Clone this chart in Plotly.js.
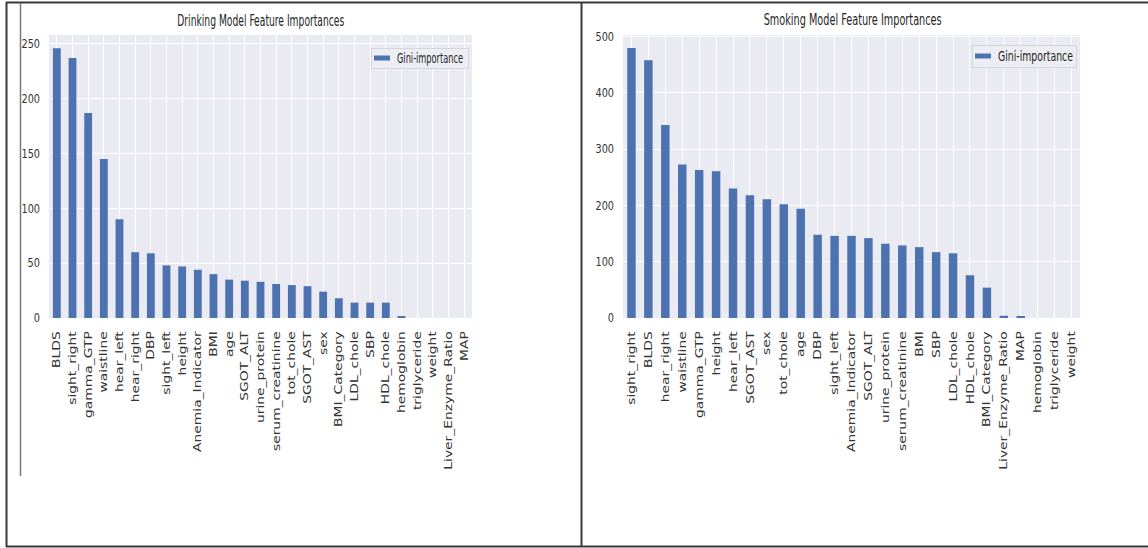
<!DOCTYPE html>
<html>
<head>
<meta charset="utf-8">
<script src="https://cdn.plot.ly/plotly-3.0.1.min.js"></script>
<style>
  html, body { margin: 0; padding: 0; background: #ffffff; }
  #chart { width: 1148px; height: 548px; }
</style>
</head>
<body>
<div id="chart"></div>
<script>
// ---- Data ----
var drinkTitle = "Drinking Model Feature Importances";
var smokeTitle = "Smoking Model Feature Importances";
var seriesName = "Gini-importance";

var drinkFeatures = ["BLDS","sight_right","gamma_GTP","waistline","hear_left","hear_right","DBP","sight_left","height","Anemia_Indicator","BMI","age","SGOT_ALT","urine_protein","serum_creatinine","tot_chole","SGOT_AST","sex","BMI_Category","LDL_chole","SBP","HDL_chole","hemoglobin","triglyceride","weight","Liver_Enzyme_Ratio","MAP"];
var drinkValues = [246, 237, 187, 145, 90, 60, 59, 48, 47, 44, 40, 35, 34, 33, 31, 30, 29, 24, 18, 14, 14, 14, 1.2, 0, 0, 0, 0];

var smokeFeatures = ["sight_right","BLDS","hear_right","waistline","gamma_GTP","height","hear_left","SGOT_AST","sex","tot_chole","age","DBP","sight_left","Anemia_Indicator","SGOT_ALT","urine_protein","serum_creatinine","BMI","SBP","LDL_chole","HDL_chole","BMI_Category","Liver_Enzyme_Ratio","MAP","hemoglobin","triglyceride","weight"];
var smokeValues = [480, 458, 343, 273, 263, 261, 230, 218, 211, 202, 194, 148, 146, 146, 142, 132, 129, 126, 117, 115, 76, 54, 4, 2, 0, 0, 0];

var drinkTicks = [0, 50, 100, 150, 200, 250];
var smokeTicks = [0, 100, 200, 300, 400, 500];

// ---- Styling ----
var W = 1148, H = 548;
var barColor = "#4C72B0";
var bg = "#EAEAF2";
var narrow = "DejaVu Sans Condensed, Liberation Sans Narrow, sans-serif";
var sans = "DejaVu Sans, sans-serif";
function px(x) { return x / W; }
function py(y) { return 1 - y / H; }

var traces = [
  { type: "bar", x: drinkFeatures, y: drinkValues, name: seriesName,
    marker: { color: barColor, line: { width: 0 } }, width: 0.5,
    xaxis: "x", yaxis: "y", legend: "legend", hoverinfo: "x+y" },
  { type: "bar", x: smokeFeatures, y: smokeValues, name: seriesName,
    marker: { color: barColor, line: { width: 0 } }, width: 0.5,
    xaxis: "x2", yaxis: "y2", legend: "legend2", hoverinfo: "x+y" }
];

var yDom = [py(318), py(35)];

function xaxisDef(dom, anchor, cats) {
  return {
    domain: dom, anchor: anchor, type: "category",
    range: [-0.5, cats.length - 0.5],
    tickmode: "array", tickvals: cats, ticktext: cats,
    showgrid: true, gridcolor: "#ffffff", gridwidth: 1,
    zeroline: false, showline: false, ticks: "",
    tickangle: -90, ticklabelstandoff: 10,
    tickfont: { family: sans, size: 11, color: "#333333" },
    fixedrange: true
  };
}
function yaxisDef(anchor, maxv, ticks) {
  return {
    domain: yDom, anchor: anchor,
    range: [0, maxv],
    tickmode: "array", tickvals: ticks, ticktext: ticks.map(String),
    showgrid: true, gridcolor: "#ffffff", gridwidth: 1,
    zeroline: false, showline: false, ticks: "",
    ticklabelstandoff: 8,
    tickfont: { family: narrow, size: 12, color: "#333333" },
    fixedrange: true
  };
}

var lineColor = "#3a3a3a";
var shapes = [
  { type: "line", xref: "paper", yref: "paper", x0: px(6), x1: 1, y0: py(2.5), y1: py(2.5), line: { color: lineColor, width: 2 } },
  { type: "line", xref: "paper", yref: "paper", x0: px(6.5), x1: px(6.5), y0: py(2), y1: py(547), line: { color: lineColor, width: 2 } },
  { type: "line", xref: "paper", yref: "paper", x0: px(20.5), x1: px(20.5), y0: py(3), y1: py(476), line: { color: "#7a7a7a", width: 1.5 } },
  { type: "line", xref: "paper", yref: "paper", x0: px(581.5), x1: px(581.5), y0: py(2), y1: py(547), line: { color: lineColor, width: 2 } },
  { type: "line", xref: "paper", yref: "paper", x0: px(6), x1: 1, y0: py(546.5), y1: py(546.5), line: { color: lineColor, width: 2 } }
];

var annotations = [
  { text: drinkTitle, xref: "paper", yref: "paper", x: px(260.5), y: py(21), xanchor: "center", yanchor: "middle",
    showarrow: false, font: { family: narrow, size: 15, color: "#262626" } },
  { text: smokeTitle, xref: "paper", yref: "paper", x: px(852), y: py(20), xanchor: "center", yanchor: "middle",
    showarrow: false, font: { family: narrow, size: 15, color: "#262626" } }
];

function legendDef(xr, yt) {
  return {
    x: px(xr), y: py(yt), xanchor: "right", yanchor: "top",
    xref: "paper", yref: "paper",
    bgcolor: "#EDEDF4", bordercolor: "#d4d4dc", borderwidth: 1,
    font: { family: narrow, size: 14, color: "#262626" },
    itemwidth: 30, tracegroupgap: 0
  };
}

var layout = {
  width: W, height: H,
  margin: { l: 0, r: 0, t: 0, b: 0, pad: 0 },
  paper_bgcolor: "#ffffff",
  plot_bgcolor: bg,
  showlegend: true,
  xaxis: xaxisDef([px(49), px(472)], "y", drinkFeatures),
  yaxis: yaxisDef("x", 258, drinkTicks),
  xaxis2: xaxisDef([px(623), px(1080)], "y2", smokeFeatures),
  yaxis2: yaxisDef("x2", 503, smokeTicks),
  legend: legendDef(468, 47),
  legend2: legendDef(1076, 45),
  shapes: shapes,
  annotations: annotations
};

// Visual tweaks that mimic the (horizontally squeezed) look of the original image
var titleWidths = [167, 178];
var legendBoxes = {
  legend:  { left: 371, top: 48, width: 97,  height: 20, textLen: 66 },
  legend2: { left: 972, top: 45, width: 104, height: 22, textLen: 75 }
};
var xLabelStretch = 1.26;
var yLabelSqueeze = 0.9;

function stretch(el, f) {
  if (el.getAttribute("data-fit")) return;
  var len = el.getComputedTextLength();
  if (!len) return;
  el.setAttribute("textLength", (len * f).toFixed(1));
  el.setAttribute("lengthAdjust", "spacingAndGlyphs");
  el.setAttribute("data-fit", "1");
}

function legendOf(el) {
  var n = el.parentNode;
  while (n && n.getAttribute) {
    var c = n.getAttribute("class") || "";
    var parts = c.split(/\s+/);
    for (var i = 0; i < parts.length; i++) {
      if (legendBoxes[parts[i]]) return { g: n, lb: legendBoxes[parts[i]] };
    }
    n = n.parentNode;
  }
  return null;
}

function tweak(gd) {
  var anns = gd.querySelectorAll(".annotation-text");
  for (var i = 0; i < anns.length && i < titleWidths.length; i++) {
    anns[i].setAttribute("textLength", titleWidths[i]);
    anns[i].setAttribute("lengthAdjust", "spacingAndGlyphs");
  }
  gd.querySelectorAll(".xtick text, .x2tick text").forEach(function (t) { stretch(t, xLabelStretch); });
  gd.querySelectorAll(".ytick text, .y2tick text").forEach(function (t) { stretch(t, yLabelSqueeze); });

  gd.querySelectorAll("text.legendtext, text.legend2text").forEach(function (txt) {
    var info = legendOf(txt);
    if (!info) return;
    var lb = info.lb, g = info.g;
    txt.setAttribute("x", 26);
    txt.setAttribute("y", 5);
    txt.setAttribute("textLength", lb.textLen);
    txt.setAttribute("lengthAdjust", "spacingAndGlyphs");
    txt.querySelectorAll("tspan").forEach(function (ts) { if (ts.hasAttribute("x")) ts.setAttribute("x", 26); });
    var bgRect = g.querySelector("rect.bg");
    if (bgRect) { bgRect.setAttribute("width", lb.width); bgRect.setAttribute("height", lb.height); }
    var sb = g.querySelector(".scrollbox");
    if (sb) sb.removeAttribute("clip-path");
    var tr = txt.parentNode;
    if (tr && (tr.getAttribute("class") || "").indexOf("traces") >= 0) {
      tr.setAttribute("transform", "translate(0," + (lb.height / 2) + ")");
    }
    g.querySelectorAll(".legendpoints path").forEach(function (p) {
      p.setAttribute("d", "M8,2.5H-8V-2.5H8Z");
      p.setAttribute("transform", "translate(11,0)");
    });
    g.setAttribute("transform", "translate(" + lb.left + "," + lb.top + ")");
  });
}

Plotly.newPlot("chart", traces, layout, { displayModeBar: false, responsive: false }).then(function (gd) {
  tweak(gd);
  setTimeout(function () { tweak(gd); }, 50);
  setTimeout(function () { tweak(gd); }, 300);
});
</script>
</body>
</html>
